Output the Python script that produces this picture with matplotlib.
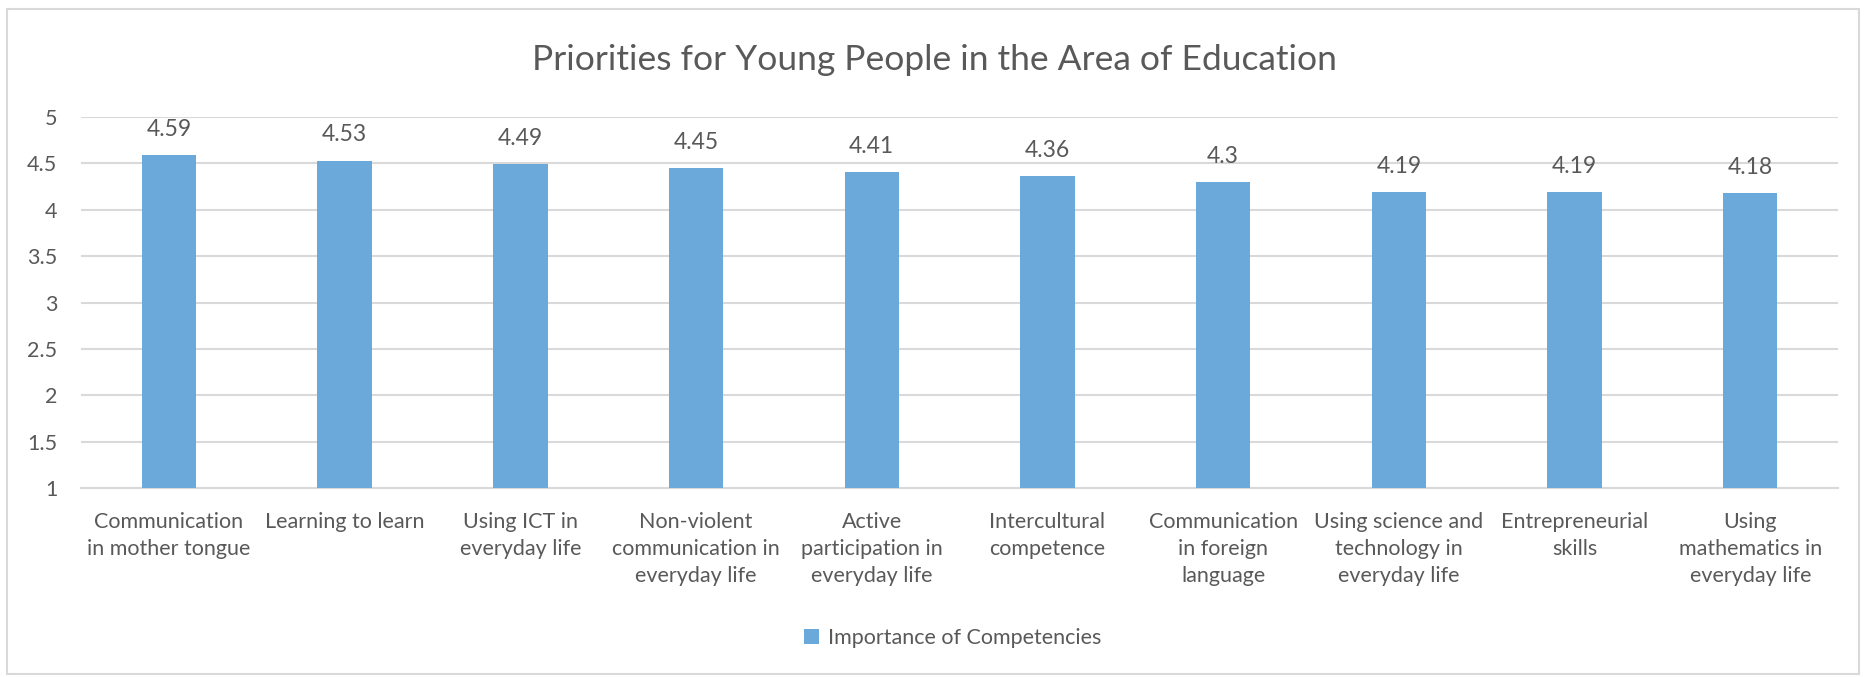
import matplotlib
matplotlib.use("Agg")
import matplotlib.pyplot as plt
from matplotlib.patches import Rectangle

plt.rcParams['font.family'] = ['Lato', 'DejaVu Sans']

categories = [
    "Communication\nin mother tongue",
    "Learning to learn",
    "Using ICT in\neveryday life",
    "Non-violent\ncommunication in\neveryday life",
    "Active\nparticipation in\neveryday life",
    "Intercultural\ncompetence",
    "Communication\nin foreign\nlanguage",
    "Using science and\ntechnology in\neveryday life",
    "Entrepreneurial\nskills",
    "Using\nmathematics in\neveryday life",
]
values = [4.59, 4.53, 4.49, 4.45, 4.41, 4.36, 4.3, 4.19, 4.19, 4.18]
value_labels = ["4.59", "4.53", "4.49", "4.45", "4.41", "4.36", "4.3", "4.19", "4.19", "4.18"]
y_ticks = [1, 1.5, 2, 2.5, 3, 3.5, 4, 4.5, 5]
y_tick_labels = ["1", "1.5", "2", "2.5", "3", "3.5", "4", "4.5", "5"]

bar_color = "#6CA9DB"
text_color = "#595959"
grid_color = "#D9D9D9"

fig = plt.figure(figsize=(18.68, 6.77), dpi=100)
ax = fig.add_axes([0.0434, 0.279, 0.9406, 0.548])

x = list(range(len(categories)))
bars = ax.bar(x, [v - 1 for v in values], bottom=1, width=0.31,
              color=bar_color, zorder=3, label="Importance of Competencies")

for xi, v, lab in zip(x, values, value_labels):
    ax.annotate(lab, (xi, v), xytext=(0, 11), textcoords="offset points",
                ha="center", va="bottom", fontsize=16.5, color=text_color)

ax.set_xlim(-0.5, len(categories) - 0.5)
ax.set_ylim(1, 5)
ax.set_yticks(y_ticks)
ax.set_yticklabels(y_tick_labels)
ax.set_xticks(x)
ax.set_xticklabels(categories, linespacing=1.45)
ax.tick_params(axis="both", length=0, colors=text_color)
ax.tick_params(axis="x", pad=17, labelsize=15.5)
ax.tick_params(axis="y", pad=17, labelsize=15.5)
for lab in ax.get_xticklabels():
    lab.set_verticalalignment("top")
for lab in ax.get_yticklabels():
    lab.set_horizontalalignment("right")

ax.grid(axis="y", color=grid_color, linewidth=1.5, zorder=0)
for side in ["top", "right", "left"]:
    ax.spines[side].set_visible(False)
ax.spines["bottom"].set_color(grid_color)
ax.spines["bottom"].set_linewidth(1.5)

fig.suptitle("Priorities for Young People in the Area of Education",
             y=0.911, va="center", fontsize=25.5, color=text_color)

leg = fig.legend(handles=[bars], labels=["Importance of Competencies"],
                 loc="center", bbox_to_anchor=(0.51, 0.058), frameon=False,
                 fontsize=15.5, handlelength=0.7, handleheight=0.7,
                 handletextpad=0.4)
for t in leg.get_texts():
    t.set_color(text_color)

# outer chart border
fig.patches.append(Rectangle((0.0037, 0.004), 0.9914, 0.983,
                             transform=fig.transFigure, fill=False,
                             edgecolor=grid_color, linewidth=1.5))

fig.savefig("out.png", dpi=100, facecolor="white")
